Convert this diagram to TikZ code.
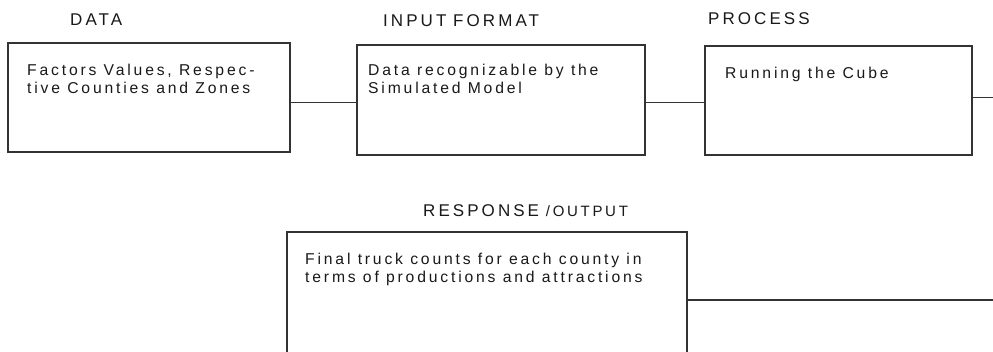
\documentclass[tikz,border=0pt]{standalone}
\usepackage{fontspec}
\setmainfont{Liberation Sans}[LetterSpace=18,WordSpace=1.65]
\usepackage{tikz}
\tikzset{
  bx/.style={rectangle, draw=black!80, line width=1.2pt, anchor=north west, inner sep=0pt, outer sep=0pt, minimum width=#1},
  tl/.style={anchor=base west, inner sep=0pt, text=black!90, font=\fontsize{17pt}{18pt}\selectfont,
    execute at begin node={\spaceskip=0.4em\relax}},
  tx/.style={anchor=base west, inner sep=0pt, text=black!90, text width=12cm, align=left,
    font=\fontsize{15.7pt}{18pt}\selectfont, execute at begin node={\spaceskip=0.46em\relax}},
  ln/.style={draw=black!80, line width=1.2pt}
}
\begin{document}
\begin{tikzpicture}[x=1pt, y=-1pt]
  \clip (0,0) rectangle (993,352);
  \fill[white] (0,0) rectangle (993,352);

  \node[tl] (tdata) at (70,26) {DATA};
  \node[tl] (tfmt) at (383,26.5) {INPUT FORMAT};
  \node[tl] (tproc) at (708,25) {PROCESS};
  \node[tl] (tresp) at (423,217) {RESPONSE {\fontsize{15pt}{16pt}\selectfont /OUTPUT}};

  \node[bx=282pt, minimum height=109pt] (data) at (8,43) {};
  \node[bx=288pt, minimum height=110pt] (fmt) at (357,45) {};
  \node[bx=267pt, minimum height=109pt] (proc) at (705,46) {};
  \node[bx=400pt, minimum height=136pt] (resp) at (287,232) {};

  \node[tx] (xdata) at (27,76) {Factors Values, Respec-\\tive Counties and Zones};
  \node[tx] (xfmt) at (368,76) {Data recognizable by the\\Simulated Model};
  \node[tx] (xproc) at (725,79) {Running the Cube};
  \node[tx] (xresp) at (305,265) {Final truck counts for each county in\\terms of productions and attractions};

  \coordinate (out1) at (993,97.3);
  \coordinate (out2) at (993,300);

  \draw[ln] ([yshift=-5pt]data.east) -- ([yshift=-5pt]data.east -| fmt.west);
  \draw[ln] ([yshift=-2.5pt]fmt.east) -- ([yshift=-2.5pt]fmt.east -| proc.west);
  \draw[ln] (out1 -| proc.east) -- (out1);
  \draw[ln] (resp.east) -- (out2);
\end{tikzpicture}
\end{document}
